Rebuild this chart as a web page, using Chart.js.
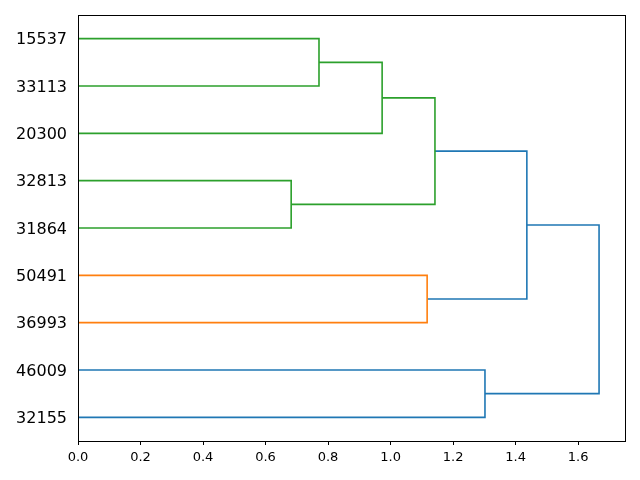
<!DOCTYPE html>
<html>
<head>
<meta charset="utf-8">
<script src="https://cdn.jsdelivr.net/npm/chart.js@4/dist/chart.umd.min.js"></script>
<style>
  html, body { margin: 0; padding: 0; background: #fff; }
  #wrap { width: 640px; height: 480px; }
</style>
</head>
<body>
<div id="wrap"><canvas id="dendro" width="640" height="480"></canvas></div>
<script>
// leaves, top to bottom
const leafLabels = ['15537', '33113', '20300', '32813', '31864', '50491', '36993', '46009', '32155'];
// linkage: node ids 0..8 are leaves, each merge creates node 9, 10, ...
const mergeLeft = [0, 9, 3, 10, 5, 12, 7, 14];
const mergeRight = [1, 2, 4, 11, 6, 13, 8, 15];
const mergeHeight = [0.771, 0.973, 0.682, 1.142, 1.117, 1.436, 1.302, 1.667];
const xTicks = [0, 0.2, 0.4, 0.6, 0.8, 1.0, 1.2, 1.4, 1.6];

const linkColors = ['#2ca02c', '#2ca02c', '#2ca02c', '#2ca02c', '#ff7f0e', '#1f77b4', '#1f77b4', '#1f77b4'];

const n = leafLabels.length;
const leafPos = leafLabels.map((_, i) => (n - i) * 10 - 5);
const nodeX = leafLabels.map(() => 0);
const nodeY = leafPos.slice();

const datasets = [];
mergeHeight.forEach((h, k) => {
    const a = mergeLeft[k], b = mergeRight[k];
    datasets.push({
        data: [
            { x: nodeX[a], y: nodeY[a] },
            { x: h, y: nodeY[a] },
            { x: h, y: nodeY[b] },
            { x: nodeX[b], y: nodeY[b] }
        ],
        showLine: true,
        borderColor: linkColors[k],
        borderWidth: 1.6,
        pointRadius: 0,
        fill: false,
        tension: 0
    });
    nodeX.push(h);
    nodeY.push((nodeY[a] + nodeY[b]) / 2);
});

const frame = {
    id: 'frame',
    afterDraw(chart) {
        const { ctx, chartArea: c } = chart;
        ctx.save();
        ctx.strokeStyle = '#000';
        ctx.lineWidth = 1;
        ctx.strokeRect(Math.round(c.left) + 0.5, Math.round(c.top) + 0.5,
            Math.round(c.right - c.left), Math.round(c.bottom - c.top));
        ctx.restore();
    }
};

new Chart(document.getElementById('dendro').getContext('2d'), {
    type: 'scatter',
    data: { datasets: datasets },
    options: {
        responsive: false,
        animation: false,
        layout: { padding: { top: 15, right: 15, left: 0, bottom: 0 } },
        plugins: { legend: { display: false }, tooltip: { enabled: false } },
        scales: {
            x: {
                type: 'linear',
                min: 0,
                max: 1.75,
                afterFit: s => { s.height = 39; s.paddingLeft = 0; s.paddingRight = 0; },
                afterBuildTicks: s => { s.ticks = xTicks.map(v => ({ value: v })); },
                grid: { display: true, drawOnChartArea: false, drawTicks: true, tickLength: 4, color: '#000' },
                border: { display: false },
                ticks: {
                    color: '#000',
                    padding: 5,
                    maxRotation: 0,
                    font: { family: 'DejaVu Sans', size: 13 },
                    callback: v => Number(v).toFixed(1)
                }
            },
            y: {
                type: 'linear',
                min: 0,
                max: n * 10,
                afterFit: s => { s.width = 78; s.paddingTop = 0; s.paddingBottom = 0; },
                afterBuildTicks: s => { s.ticks = leafPos.map(v => ({ value: v })); },
                grid: { display: false, drawTicks: false },
                border: { display: false },
                ticks: {
                    color: '#000',
                    padding: 11,
                    labelOffset: 1.5,
                    font: { family: 'DejaVu Sans', size: 16 },
                    callback: v => leafLabels[leafPos.indexOf(v)]
                }
            }
        }
    },
    plugins: [frame]
});
</script>
</body>
</html>
